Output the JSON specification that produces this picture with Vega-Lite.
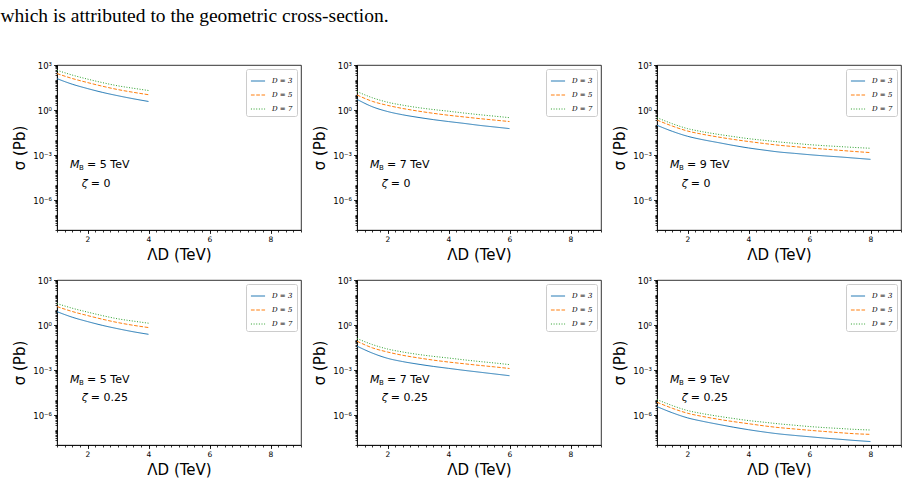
{
"$schema": "https://vega.github.io/schema/vega-lite/v6.json",
"background": "white",
"padding": {"left": 0, "top": 6, "right": 8, "bottom": 0},
"title": {"text": "which is attributed to the geometric cross-section.", "anchor": "start", "frame": "bounds", "font": "Liberation Serif", "fontSize": 19.5, "fontWeight": "normal", "color": "black", "offset": 34, "dx": -12},
"bounds": "flush",
"columns": 3,
"spacing": {"row": 50, "column": 56},
"datasets": {
"curves": [
{"panel":1,"D":"D = 3","lambda":1,"sigma":123.0},{"panel":1,"D":"D = 3","lambda":1.5,"sigma":52.48},{"panel":1,"D":"D = 3","lambda":2,"sigma":26.92},{"panel":1,"D":"D = 3","lambda":2.5,"sigma":14.79},{"panel":1,"D":"D = 3","lambda":3,"sigma":8.913},{"panel":1,"D":"D = 3","lambda":3.5,"sigma":5.623},{"panel":1,"D":"D = 3","lambda":4,"sigma":3.715},
{"panel":1,"D":"D = 5","lambda":1,"sigma":269.2},{"panel":1,"D":"D = 5","lambda":1.5,"sigma":125.9},{"panel":1,"D":"D = 5","lambda":2,"sigma":67.61},{"panel":1,"D":"D = 5","lambda":2.5,"sigma":38.02},{"panel":1,"D":"D = 5","lambda":3,"sigma":22.91},{"panel":1,"D":"D = 5","lambda":3.5,"sigma":15.14},{"panel":1,"D":"D = 5","lambda":4,"sigma":10.47},
{"panel":1,"D":"D = 7","lambda":1,"sigma":446.7},{"panel":1,"D":"D = 7","lambda":1.5,"sigma":213.8},{"panel":1,"D":"D = 7","lambda":2,"sigma":114.8},{"panel":1,"D":"D = 7","lambda":2.5,"sigma":66.07},{"panel":1,"D":"D = 7","lambda":3,"sigma":40.74},{"panel":1,"D":"D = 7","lambda":3.5,"sigma":28.18},{"panel":1,"D":"D = 7","lambda":4,"sigma":19.95},
{"panel":4,"D":"D = 3","lambda":1,"sigma":7.762},{"panel":4,"D":"D = 3","lambda":1.5,"sigma":3.311},{"panel":4,"D":"D = 3","lambda":2,"sigma":1.698},{"panel":4,"D":"D = 3","lambda":2.5,"sigma":0.9333},{"panel":4,"D":"D = 3","lambda":3,"sigma":0.5623},{"panel":4,"D":"D = 3","lambda":3.5,"sigma":0.3548},{"panel":4,"D":"D = 3","lambda":4,"sigma":0.2399},
{"panel":4,"D":"D = 5","lambda":1,"sigma":16.98},{"panel":4,"D":"D = 5","lambda":1.5,"sigma":7.943},{"panel":4,"D":"D = 5","lambda":2,"sigma":4.266},{"panel":4,"D":"D = 5","lambda":2.5,"sigma":2.399},{"panel":4,"D":"D = 5","lambda":3,"sigma":1.445},{"panel":4,"D":"D = 5","lambda":3.5,"sigma":0.955},{"panel":4,"D":"D = 5","lambda":4,"sigma":0.6761},
{"panel":4,"D":"D = 7","lambda":1,"sigma":26.92},{"panel":4,"D":"D = 7","lambda":1.5,"sigma":13.18},{"panel":4,"D":"D = 7","lambda":2,"sigma":7.244},{"panel":4,"D":"D = 7","lambda":2.5,"sigma":4.169},{"panel":4,"D":"D = 7","lambda":3,"sigma":2.57},{"panel":4,"D":"D = 7","lambda":3.5,"sigma":1.82},{"panel":4,"D":"D = 7","lambda":4,"sigma":1.318},
{"panel":2,"D":"D = 3","lambda":1,"sigma":5.129},{"panel":2,"D":"D = 3","lambda":1.5,"sigma":1.66},{"panel":2,"D":"D = 3","lambda":2,"sigma":0.7943},{"panel":2,"D":"D = 3","lambda":2.5,"sigma":0.4786},{"panel":2,"D":"D = 3","lambda":3,"sigma":0.3236},{"panel":2,"D":"D = 3","lambda":3.5,"sigma":0.2291},{"panel":2,"D":"D = 3","lambda":4,"sigma":0.1698},{"panel":2,"D":"D = 3","lambda":4.5,"sigma":0.1288},{"panel":2,"D":"D = 3","lambda":5,"sigma":0.0955},{"panel":2,"D":"D = 3","lambda":5.5,"sigma":0.07413},{"panel":2,"D":"D = 3","lambda":6,"sigma":0.05754},
{"panel":2,"D":"D = 5","lambda":1,"sigma":10.0},{"panel":2,"D":"D = 5","lambda":1.5,"sigma":3.802},{"panel":2,"D":"D = 5","lambda":2,"sigma":2.042},{"panel":2,"D":"D = 5","lambda":2.5,"sigma":1.259},{"panel":2,"D":"D = 5","lambda":3,"sigma":0.8511},{"panel":2,"D":"D = 5","lambda":3.5,"sigma":0.6026},{"panel":2,"D":"D = 5","lambda":4,"sigma":0.4467},{"panel":2,"D":"D = 5","lambda":4.5,"sigma":0.3467},{"panel":2,"D":"D = 5","lambda":5,"sigma":0.2692},{"panel":2,"D":"D = 5","lambda":5.5,"sigma":0.2138},{"panel":2,"D":"D = 5","lambda":6,"sigma":0.1698},
{"panel":2,"D":"D = 7","lambda":1,"sigma":16.98},{"panel":2,"D":"D = 7","lambda":1.5,"sigma":6.607},{"panel":2,"D":"D = 7","lambda":2,"sigma":3.311},{"panel":2,"D":"D = 7","lambda":2.5,"sigma":2.089},{"panel":2,"D":"D = 7","lambda":3,"sigma":1.445},{"panel":2,"D":"D = 7","lambda":3.5,"sigma":1.072},{"panel":2,"D":"D = 7","lambda":4,"sigma":0.8318},{"panel":2,"D":"D = 7","lambda":4.5,"sigma":0.631},{"panel":2,"D":"D = 7","lambda":5,"sigma":0.4898},{"panel":2,"D":"D = 7","lambda":5.5,"sigma":0.389},{"panel":2,"D":"D = 7","lambda":6,"sigma":0.309},
{"panel":5,"D":"D = 3","lambda":1,"sigma":0.0389},{"panel":5,"D":"D = 3","lambda":1.5,"sigma":0.01349},{"panel":5,"D":"D = 3","lambda":2,"sigma":0.006026},{"panel":5,"D":"D = 3","lambda":2.5,"sigma":0.003631},{"panel":5,"D":"D = 3","lambda":3,"sigma":0.002455},{"panel":5,"D":"D = 3","lambda":3.5,"sigma":0.001738},{"panel":5,"D":"D = 3","lambda":4,"sigma":0.001288},{"panel":5,"D":"D = 3","lambda":4.5,"sigma":0.000955},{"panel":5,"D":"D = 3","lambda":5,"sigma":0.0007244},{"panel":5,"D":"D = 3","lambda":5.5,"sigma":0.0005495},{"panel":5,"D":"D = 3","lambda":6,"sigma":0.0004169},
{"panel":5,"D":"D = 5","lambda":1,"sigma":0.08318},{"panel":5,"D":"D = 5","lambda":1.5,"sigma":0.0302},{"panel":5,"D":"D = 5","lambda":2,"sigma":0.01585},{"panel":5,"D":"D = 5","lambda":2.5,"sigma":0.00955},{"panel":5,"D":"D = 5","lambda":3,"sigma":0.006457},{"panel":5,"D":"D = 5","lambda":3.5,"sigma":0.004571},{"panel":5,"D":"D = 5","lambda":4,"sigma":0.003388},{"panel":5,"D":"D = 5","lambda":4.5,"sigma":0.00263},{"panel":5,"D":"D = 5","lambda":5,"sigma":0.002042},{"panel":5,"D":"D = 5","lambda":5.5,"sigma":0.001622},{"panel":5,"D":"D = 5","lambda":6,"sigma":0.001259},
{"panel":5,"D":"D = 7","lambda":1,"sigma":0.1259},{"panel":5,"D":"D = 7","lambda":1.5,"sigma":0.05012},{"panel":5,"D":"D = 7","lambda":2,"sigma":0.02512},{"panel":5,"D":"D = 7","lambda":2.5,"sigma":0.01585},{"panel":5,"D":"D = 7","lambda":3,"sigma":0.01096},{"panel":5,"D":"D = 7","lambda":3.5,"sigma":0.008128},{"panel":5,"D":"D = 7","lambda":4,"sigma":0.00631},{"panel":5,"D":"D = 7","lambda":4.5,"sigma":0.004786},{"panel":5,"D":"D = 7","lambda":5,"sigma":0.003715},{"panel":5,"D":"D = 7","lambda":5.5,"sigma":0.002951},{"panel":5,"D":"D = 7","lambda":6,"sigma":0.002291},
{"panel":3,"D":"D = 3","lambda":1,"sigma":0.0955},{"panel":3,"D":"D = 3","lambda":1.5,"sigma":0.03802},{"panel":3,"D":"D = 3","lambda":2,"sigma":0.01778},{"panel":3,"D":"D = 3","lambda":2.5,"sigma":0.01047},{"panel":3,"D":"D = 3","lambda":3,"sigma":0.006761},{"panel":3,"D":"D = 3","lambda":3.5,"sigma":0.004365},{"panel":3,"D":"D = 3","lambda":4,"sigma":0.002951},{"panel":3,"D":"D = 3","lambda":4.5,"sigma":0.002138},{"panel":3,"D":"D = 3","lambda":5,"sigma":0.001585},{"panel":3,"D":"D = 3","lambda":5.5,"sigma":0.001288},{"panel":3,"D":"D = 3","lambda":6,"sigma":0.001047},{"panel":3,"D":"D = 3","lambda":6.5,"sigma":0.000871},{"panel":3,"D":"D = 3","lambda":7,"sigma":0.0007413},{"panel":3,"D":"D = 3","lambda":7.5,"sigma":0.0006166},{"panel":3,"D":"D = 3","lambda":8,"sigma":0.0005129},
{"panel":3,"D":"D = 5","lambda":1,"sigma":0.2138},{"panel":3,"D":"D = 5","lambda":1.5,"sigma":0.08511},{"panel":3,"D":"D = 5","lambda":2,"sigma":0.03981},{"panel":3,"D":"D = 5","lambda":2.5,"sigma":0.02399},{"panel":3,"D":"D = 5","lambda":3,"sigma":0.01585},{"panel":3,"D":"D = 5","lambda":3.5,"sigma":0.01096},{"panel":3,"D":"D = 5","lambda":4,"sigma":0.007943},{"panel":3,"D":"D = 5","lambda":4.5,"sigma":0.005888},{"panel":3,"D":"D = 5","lambda":5,"sigma":0.004467},{"panel":3,"D":"D = 5","lambda":5.5,"sigma":0.003631},{"panel":3,"D":"D = 5","lambda":6,"sigma":0.002951},{"panel":3,"D":"D = 5","lambda":6.5,"sigma":0.002455},{"panel":3,"D":"D = 5","lambda":7,"sigma":0.002042},{"panel":3,"D":"D = 5","lambda":7.5,"sigma":0.001698},{"panel":3,"D":"D = 5","lambda":8,"sigma":0.001445},
{"panel":3,"D":"D = 7","lambda":1,"sigma":0.309},{"panel":3,"D":"D = 7","lambda":1.5,"sigma":0.123},{"panel":3,"D":"D = 7","lambda":2,"sigma":0.05754},{"panel":3,"D":"D = 7","lambda":2.5,"sigma":0.03548},{"panel":3,"D":"D = 7","lambda":3,"sigma":0.02399},{"panel":3,"D":"D = 7","lambda":3.5,"sigma":0.01698},{"panel":3,"D":"D = 7","lambda":4,"sigma":0.0123},{"panel":3,"D":"D = 7","lambda":4.5,"sigma":0.00955},{"panel":3,"D":"D = 7","lambda":5,"sigma":0.007413},{"panel":3,"D":"D = 7","lambda":5.5,"sigma":0.006026},{"panel":3,"D":"D = 7","lambda":6,"sigma":0.004898},{"panel":3,"D":"D = 7","lambda":6.5,"sigma":0.004169},{"panel":3,"D":"D = 7","lambda":7,"sigma":0.003631},{"panel":3,"D":"D = 7","lambda":7.5,"sigma":0.003162},{"panel":3,"D":"D = 7","lambda":8,"sigma":0.002818},
{"panel":6,"D":"D = 3","lambda":1,"sigma":3.631e-6},{"panel":6,"D":"D = 3","lambda":1.5,"sigma":1.413e-6},{"panel":6,"D":"D = 3","lambda":2,"sigma":6.457e-7},{"panel":6,"D":"D = 3","lambda":2.5,"sigma":3.802e-7},{"panel":6,"D":"D = 3","lambda":3,"sigma":2.399e-7},{"panel":6,"D":"D = 3","lambda":3.5,"sigma":1.549e-7},{"panel":6,"D":"D = 3","lambda":4,"sigma":1.047e-7},{"panel":6,"D":"D = 3","lambda":4.5,"sigma":7.413e-8},{"panel":6,"D":"D = 3","lambda":5,"sigma":5.495e-8},{"panel":6,"D":"D = 3","lambda":5.5,"sigma":4.365e-8},{"panel":6,"D":"D = 3","lambda":6,"sigma":3.548e-8},{"panel":6,"D":"D = 3","lambda":6.5,"sigma":2.884e-8},{"panel":6,"D":"D = 3","lambda":7,"sigma":2.399e-8},{"panel":6,"D":"D = 3","lambda":7.5,"sigma":1.995e-8},{"panel":6,"D":"D = 3","lambda":8,"sigma":1.698e-8},
{"panel":6,"D":"D = 5","lambda":1,"sigma":7.079e-6},{"panel":6,"D":"D = 5","lambda":1.5,"sigma":2.818e-6},{"panel":6,"D":"D = 5","lambda":2,"sigma":1.318e-6},{"panel":6,"D":"D = 5","lambda":2.5,"sigma":7.943e-7},{"panel":6,"D":"D = 5","lambda":3,"sigma":5.248e-7},{"panel":6,"D":"D = 5","lambda":3.5,"sigma":3.631e-7},{"panel":6,"D":"D = 5","lambda":4,"sigma":2.63e-7},{"panel":6,"D":"D = 5","lambda":4.5,"sigma":1.905e-7},{"panel":6,"D":"D = 5","lambda":5,"sigma":1.445e-7},{"panel":6,"D":"D = 5","lambda":5.5,"sigma":1.175e-7},{"panel":6,"D":"D = 5","lambda":6,"sigma":9.55e-8},{"panel":6,"D":"D = 5","lambda":6.5,"sigma":7.943e-8},{"panel":6,"D":"D = 5","lambda":7,"sigma":6.607e-8},{"panel":6,"D":"D = 5","lambda":7.5,"sigma":5.623e-8},{"panel":6,"D":"D = 5","lambda":8,"sigma":5.129e-8},
{"panel":6,"D":"D = 7","lambda":1,"sigma":1.072e-5},{"panel":6,"D":"D = 7","lambda":1.5,"sigma":4.266e-6},{"panel":6,"D":"D = 7","lambda":2,"sigma":1.995e-6},{"panel":6,"D":"D = 7","lambda":2.5,"sigma":1.23e-6},{"panel":6,"D":"D = 7","lambda":3,"sigma":8.318e-7},{"panel":6,"D":"D = 7","lambda":3.5,"sigma":5.888e-7},{"panel":6,"D":"D = 7","lambda":4,"sigma":4.266e-7},{"panel":6,"D":"D = 7","lambda":4.5,"sigma":3.311e-7},{"panel":6,"D":"D = 7","lambda":5,"sigma":2.57e-7},{"panel":6,"D":"D = 7","lambda":5.5,"sigma":2.089e-7},{"panel":6,"D":"D = 7","lambda":6,"sigma":1.698e-7},{"panel":6,"D":"D = 7","lambda":6.5,"sigma":1.445e-7},{"panel":6,"D":"D = 7","lambda":7,"sigma":1.259e-7},{"panel":6,"D":"D = 7","lambda":7.5,"sigma":1.096e-7},{"panel":6,"D":"D = 7","lambda":8,"sigma":1.0e-7}
],
"notes": [
{"panel":1,"kind":"mb","lambda":1.43,"sigma":2.0e-4,"label":"= 5 TeV"},{"panel":1,"kind":"zeta","lambda":1.81,"sigma":1.1e-5,"label":"= 0"},
{"panel":2,"kind":"mb","lambda":1.43,"sigma":2.0e-4,"label":"= 7 TeV"},{"panel":2,"kind":"zeta","lambda":1.81,"sigma":1.1e-5,"label":"= 0"},
{"panel":3,"kind":"mb","lambda":1.43,"sigma":2.0e-4,"label":"= 9 TeV"},{"panel":3,"kind":"zeta","lambda":1.81,"sigma":1.1e-5,"label":"= 0"},
{"panel":4,"kind":"mb","lambda":1.43,"sigma":2.1e-4,"label":"= 5 TeV"},{"panel":4,"kind":"zeta","lambda":1.81,"sigma":1.4e-5,"label":"= 0.25"},
{"panel":5,"kind":"mb","lambda":1.43,"sigma":2.1e-4,"label":"= 7 TeV"},{"panel":5,"kind":"zeta","lambda":1.81,"sigma":1.4e-5,"label":"= 0.25"},
{"panel":6,"kind":"mb","lambda":1.43,"sigma":2.1e-4,"label":"= 9 TeV"},{"panel":6,"kind":"zeta","lambda":1.81,"sigma":1.4e-5,"label":"= 0.25"}
]
},
"concat": [
{"width":244,"height":165,"resolve":{"axis":{"x":"independent","y":"independent"}},"layer":[
{"data":{"name":"curves"},"transform":[{"filter":"datum.panel == 1"}],"mark":{"type":"line","strokeWidth":1,"interpolate":"monotone"},"encoding":{"x":{"field":"lambda","type":"quantitative","scale":{"domain":[1,9],"nice":false},"axis":{"values":[2,4,6,8],"title":"ΛD (TeV)","titlePadding":4}},"y":{"field":"sigma","type":"quantitative","scale":{"type":"log","domain":[1e-8,1000],"nice":false},"axis":{"values":[1e-6,0.001,1,1000],"labelFontSize":8.5,"labelExpr":"datum.value >= 100 ? '10³' : datum.value >= 0.5 ? '10⁰' : datum.value >= 0.0005 ? '10⁻³' : '10⁻⁶'","title":"σ (Pb)","titlePadding":5}},"color":{"field":"D","type":"nominal","scale":{"domain":["D = 3","D = 5","D = 7"],"range":["#1f77b4","#ff7f0e","#2ca02c"]},"legend":{"title":null}},"strokeDash":{"field":"D","type":"nominal","scale":{"domain":["D = 3","D = 5","D = 7"],"range":[[1,0],[3.7,1.6],[1,1.65]]},"legend":{"title":null}}}},
{"data":{"name":"notes"},"transform":[{"filter":"datum.panel == 1 && datum.kind == 'mb'"}],"mark":{"type":"text","text":"M","fontStyle":"italic","fontSize":11,"align":"left","baseline":"middle"},"encoding":{"x":{"field":"lambda","type":"quantitative","axis":{"orient":"bottom","values":[1,1.25,1.5,1.75,2,2.25,2.5,2.75,3,3.25,3.5,3.75,4,4.25,4.5,4.75,5,5.25,5.5,5.75,6,6.25,6.5,6.75,7,7.25,7.5,7.75,8,8.25,8.5,8.75,9],"labels":false,"domain":false,"tickSize":2,"title":null}},"y":{"field":"sigma","type":"quantitative","axis":{"orient":"left","tickCount":100,"labels":false,"domain":false,"tickSize":2,"title":null}}}},
{"data":{"name":"notes"},"transform":[{"filter":"datum.panel == 1 && datum.kind == 'mb'"}],"mark":{"type":"text","text":"B","fontSize":7,"align":"left","baseline":"middle","dx":9,"dy":3},"encoding":{"x":{"field":"lambda","type":"quantitative","axis":null},"y":{"field":"sigma","type":"quantitative","axis":null}}},
{"data":{"name":"notes"},"transform":[{"filter":"datum.panel == 1 && datum.kind == 'mb'"}],"mark":{"type":"text","fontSize":11,"align":"left","baseline":"middle","dx":17},"encoding":{"x":{"field":"lambda","type":"quantitative","axis":null},"y":{"field":"sigma","type":"quantitative","axis":null},"text":{"field":"label"}}},
{"data":{"name":"notes"},"transform":[{"filter":"datum.panel == 1 && datum.kind == 'zeta'"}],"mark":{"type":"text","text":"ζ","fontStyle":"italic","fontSize":11,"align":"left","baseline":"middle"},"encoding":{"x":{"field":"lambda","type":"quantitative","axis":null},"y":{"field":"sigma","type":"quantitative","axis":null}}},
{"data":{"name":"notes"},"transform":[{"filter":"datum.panel == 1 && datum.kind == 'zeta'"}],"mark":{"type":"text","fontSize":11,"align":"left","baseline":"middle","dx":9},"encoding":{"x":{"field":"lambda","type":"quantitative","axis":null},"y":{"field":"sigma","type":"quantitative","axis":null},"text":{"field":"label"}}}
]},
{"width":244,"height":165,"resolve":{"axis":{"x":"independent","y":"independent"}},"layer":[
{"data":{"name":"curves"},"transform":[{"filter":"datum.panel == 2"}],"mark":{"type":"line","strokeWidth":1,"interpolate":"monotone"},"encoding":{"x":{"field":"lambda","type":"quantitative","scale":{"domain":[1,9],"nice":false},"axis":{"values":[2,4,6,8],"title":"ΛD (TeV)","titlePadding":4}},"y":{"field":"sigma","type":"quantitative","scale":{"type":"log","domain":[1e-8,1000],"nice":false},"axis":{"values":[1e-6,0.001,1,1000],"labelFontSize":8.5,"labelExpr":"datum.value >= 100 ? '10³' : datum.value >= 0.5 ? '10⁰' : datum.value >= 0.0005 ? '10⁻³' : '10⁻⁶'","title":"σ (Pb)","titlePadding":5}},"color":{"field":"D","type":"nominal","scale":{"domain":["D = 3","D = 5","D = 7"],"range":["#1f77b4","#ff7f0e","#2ca02c"]},"legend":{"title":null}},"strokeDash":{"field":"D","type":"nominal","scale":{"domain":["D = 3","D = 5","D = 7"],"range":[[1,0],[3.7,1.6],[1,1.65]]},"legend":{"title":null}}}},
{"data":{"name":"notes"},"transform":[{"filter":"datum.panel == 2 && datum.kind == 'mb'"}],"mark":{"type":"text","text":"M","fontStyle":"italic","fontSize":11,"align":"left","baseline":"middle"},"encoding":{"x":{"field":"lambda","type":"quantitative","axis":{"orient":"bottom","values":[1,1.25,1.5,1.75,2,2.25,2.5,2.75,3,3.25,3.5,3.75,4,4.25,4.5,4.75,5,5.25,5.5,5.75,6,6.25,6.5,6.75,7,7.25,7.5,7.75,8,8.25,8.5,8.75,9],"labels":false,"domain":false,"tickSize":2,"title":null}},"y":{"field":"sigma","type":"quantitative","axis":{"orient":"left","tickCount":100,"labels":false,"domain":false,"tickSize":2,"title":null}}}},
{"data":{"name":"notes"},"transform":[{"filter":"datum.panel == 2 && datum.kind == 'mb'"}],"mark":{"type":"text","text":"B","fontSize":7,"align":"left","baseline":"middle","dx":9,"dy":3},"encoding":{"x":{"field":"lambda","type":"quantitative","axis":null},"y":{"field":"sigma","type":"quantitative","axis":null}}},
{"data":{"name":"notes"},"transform":[{"filter":"datum.panel == 2 && datum.kind == 'mb'"}],"mark":{"type":"text","fontSize":11,"align":"left","baseline":"middle","dx":17},"encoding":{"x":{"field":"lambda","type":"quantitative","axis":null},"y":{"field":"sigma","type":"quantitative","axis":null},"text":{"field":"label"}}},
{"data":{"name":"notes"},"transform":[{"filter":"datum.panel == 2 && datum.kind == 'zeta'"}],"mark":{"type":"text","text":"ζ","fontStyle":"italic","fontSize":11,"align":"left","baseline":"middle"},"encoding":{"x":{"field":"lambda","type":"quantitative","axis":null},"y":{"field":"sigma","type":"quantitative","axis":null}}},
{"data":{"name":"notes"},"transform":[{"filter":"datum.panel == 2 && datum.kind == 'zeta'"}],"mark":{"type":"text","fontSize":11,"align":"left","baseline":"middle","dx":9},"encoding":{"x":{"field":"lambda","type":"quantitative","axis":null},"y":{"field":"sigma","type":"quantitative","axis":null},"text":{"field":"label"}}}
]},
{"width":244,"height":165,"resolve":{"axis":{"x":"independent","y":"independent"}},"layer":[
{"data":{"name":"curves"},"transform":[{"filter":"datum.panel == 3"}],"mark":{"type":"line","strokeWidth":1,"interpolate":"monotone"},"encoding":{"x":{"field":"lambda","type":"quantitative","scale":{"domain":[1,9],"nice":false},"axis":{"values":[2,4,6,8],"title":"ΛD (TeV)","titlePadding":4}},"y":{"field":"sigma","type":"quantitative","scale":{"type":"log","domain":[1e-8,1000],"nice":false},"axis":{"values":[1e-6,0.001,1,1000],"labelFontSize":8.5,"labelExpr":"datum.value >= 100 ? '10³' : datum.value >= 0.5 ? '10⁰' : datum.value >= 0.0005 ? '10⁻³' : '10⁻⁶'","title":"σ (Pb)","titlePadding":5}},"color":{"field":"D","type":"nominal","scale":{"domain":["D = 3","D = 5","D = 7"],"range":["#1f77b4","#ff7f0e","#2ca02c"]},"legend":{"title":null}},"strokeDash":{"field":"D","type":"nominal","scale":{"domain":["D = 3","D = 5","D = 7"],"range":[[1,0],[3.7,1.6],[1,1.65]]},"legend":{"title":null}}}},
{"data":{"name":"notes"},"transform":[{"filter":"datum.panel == 3 && datum.kind == 'mb'"}],"mark":{"type":"text","text":"M","fontStyle":"italic","fontSize":11,"align":"left","baseline":"middle"},"encoding":{"x":{"field":"lambda","type":"quantitative","axis":{"orient":"bottom","values":[1,1.25,1.5,1.75,2,2.25,2.5,2.75,3,3.25,3.5,3.75,4,4.25,4.5,4.75,5,5.25,5.5,5.75,6,6.25,6.5,6.75,7,7.25,7.5,7.75,8,8.25,8.5,8.75,9],"labels":false,"domain":false,"tickSize":2,"title":null}},"y":{"field":"sigma","type":"quantitative","axis":{"orient":"left","tickCount":100,"labels":false,"domain":false,"tickSize":2,"title":null}}}},
{"data":{"name":"notes"},"transform":[{"filter":"datum.panel == 3 && datum.kind == 'mb'"}],"mark":{"type":"text","text":"B","fontSize":7,"align":"left","baseline":"middle","dx":9,"dy":3},"encoding":{"x":{"field":"lambda","type":"quantitative","axis":null},"y":{"field":"sigma","type":"quantitative","axis":null}}},
{"data":{"name":"notes"},"transform":[{"filter":"datum.panel == 3 && datum.kind == 'mb'"}],"mark":{"type":"text","fontSize":11,"align":"left","baseline":"middle","dx":17},"encoding":{"x":{"field":"lambda","type":"quantitative","axis":null},"y":{"field":"sigma","type":"quantitative","axis":null},"text":{"field":"label"}}},
{"data":{"name":"notes"},"transform":[{"filter":"datum.panel == 3 && datum.kind == 'zeta'"}],"mark":{"type":"text","text":"ζ","fontStyle":"italic","fontSize":11,"align":"left","baseline":"middle"},"encoding":{"x":{"field":"lambda","type":"quantitative","axis":null},"y":{"field":"sigma","type":"quantitative","axis":null}}},
{"data":{"name":"notes"},"transform":[{"filter":"datum.panel == 3 && datum.kind == 'zeta'"}],"mark":{"type":"text","fontSize":11,"align":"left","baseline":"middle","dx":9},"encoding":{"x":{"field":"lambda","type":"quantitative","axis":null},"y":{"field":"sigma","type":"quantitative","axis":null},"text":{"field":"label"}}}
]},
{"width":244,"height":165,"resolve":{"axis":{"x":"independent","y":"independent"}},"layer":[
{"data":{"name":"curves"},"transform":[{"filter":"datum.panel == 4"}],"mark":{"type":"line","strokeWidth":1,"interpolate":"monotone"},"encoding":{"x":{"field":"lambda","type":"quantitative","scale":{"domain":[1,9],"nice":false},"axis":{"values":[2,4,6,8],"title":"ΛD (TeV)","titlePadding":4}},"y":{"field":"sigma","type":"quantitative","scale":{"type":"log","domain":[1e-8,1000],"nice":false},"axis":{"values":[1e-6,0.001,1,1000],"labelFontSize":8.5,"labelExpr":"datum.value >= 100 ? '10³' : datum.value >= 0.5 ? '10⁰' : datum.value >= 0.0005 ? '10⁻³' : '10⁻⁶'","title":"σ (Pb)","titlePadding":5}},"color":{"field":"D","type":"nominal","scale":{"domain":["D = 3","D = 5","D = 7"],"range":["#1f77b4","#ff7f0e","#2ca02c"]},"legend":{"title":null}},"strokeDash":{"field":"D","type":"nominal","scale":{"domain":["D = 3","D = 5","D = 7"],"range":[[1,0],[3.7,1.6],[1,1.65]]},"legend":{"title":null}}}},
{"data":{"name":"notes"},"transform":[{"filter":"datum.panel == 4 && datum.kind == 'mb'"}],"mark":{"type":"text","text":"M","fontStyle":"italic","fontSize":11,"align":"left","baseline":"middle"},"encoding":{"x":{"field":"lambda","type":"quantitative","axis":{"orient":"bottom","values":[1,1.25,1.5,1.75,2,2.25,2.5,2.75,3,3.25,3.5,3.75,4,4.25,4.5,4.75,5,5.25,5.5,5.75,6,6.25,6.5,6.75,7,7.25,7.5,7.75,8,8.25,8.5,8.75,9],"labels":false,"domain":false,"tickSize":2,"title":null}},"y":{"field":"sigma","type":"quantitative","axis":{"orient":"left","tickCount":100,"labels":false,"domain":false,"tickSize":2,"title":null}}}},
{"data":{"name":"notes"},"transform":[{"filter":"datum.panel == 4 && datum.kind == 'mb'"}],"mark":{"type":"text","text":"B","fontSize":7,"align":"left","baseline":"middle","dx":9,"dy":3},"encoding":{"x":{"field":"lambda","type":"quantitative","axis":null},"y":{"field":"sigma","type":"quantitative","axis":null}}},
{"data":{"name":"notes"},"transform":[{"filter":"datum.panel == 4 && datum.kind == 'mb'"}],"mark":{"type":"text","fontSize":11,"align":"left","baseline":"middle","dx":17},"encoding":{"x":{"field":"lambda","type":"quantitative","axis":null},"y":{"field":"sigma","type":"quantitative","axis":null},"text":{"field":"label"}}},
{"data":{"name":"notes"},"transform":[{"filter":"datum.panel == 4 && datum.kind == 'zeta'"}],"mark":{"type":"text","text":"ζ","fontStyle":"italic","fontSize":11,"align":"left","baseline":"middle"},"encoding":{"x":{"field":"lambda","type":"quantitative","axis":null},"y":{"field":"sigma","type":"quantitative","axis":null}}},
{"data":{"name":"notes"},"transform":[{"filter":"datum.panel == 4 && datum.kind == 'zeta'"}],"mark":{"type":"text","fontSize":11,"align":"left","baseline":"middle","dx":9},"encoding":{"x":{"field":"lambda","type":"quantitative","axis":null},"y":{"field":"sigma","type":"quantitative","axis":null},"text":{"field":"label"}}}
]},
{"width":244,"height":165,"resolve":{"axis":{"x":"independent","y":"independent"}},"layer":[
{"data":{"name":"curves"},"transform":[{"filter":"datum.panel == 5"}],"mark":{"type":"line","strokeWidth":1,"interpolate":"monotone"},"encoding":{"x":{"field":"lambda","type":"quantitative","scale":{"domain":[1,9],"nice":false},"axis":{"values":[2,4,6,8],"title":"ΛD (TeV)","titlePadding":4}},"y":{"field":"sigma","type":"quantitative","scale":{"type":"log","domain":[1e-8,1000],"nice":false},"axis":{"values":[1e-6,0.001,1,1000],"labelFontSize":8.5,"labelExpr":"datum.value >= 100 ? '10³' : datum.value >= 0.5 ? '10⁰' : datum.value >= 0.0005 ? '10⁻³' : '10⁻⁶'","title":"σ (Pb)","titlePadding":5}},"color":{"field":"D","type":"nominal","scale":{"domain":["D = 3","D = 5","D = 7"],"range":["#1f77b4","#ff7f0e","#2ca02c"]},"legend":{"title":null}},"strokeDash":{"field":"D","type":"nominal","scale":{"domain":["D = 3","D = 5","D = 7"],"range":[[1,0],[3.7,1.6],[1,1.65]]},"legend":{"title":null}}}},
{"data":{"name":"notes"},"transform":[{"filter":"datum.panel == 5 && datum.kind == 'mb'"}],"mark":{"type":"text","text":"M","fontStyle":"italic","fontSize":11,"align":"left","baseline":"middle"},"encoding":{"x":{"field":"lambda","type":"quantitative","axis":{"orient":"bottom","values":[1,1.25,1.5,1.75,2,2.25,2.5,2.75,3,3.25,3.5,3.75,4,4.25,4.5,4.75,5,5.25,5.5,5.75,6,6.25,6.5,6.75,7,7.25,7.5,7.75,8,8.25,8.5,8.75,9],"labels":false,"domain":false,"tickSize":2,"title":null}},"y":{"field":"sigma","type":"quantitative","axis":{"orient":"left","tickCount":100,"labels":false,"domain":false,"tickSize":2,"title":null}}}},
{"data":{"name":"notes"},"transform":[{"filter":"datum.panel == 5 && datum.kind == 'mb'"}],"mark":{"type":"text","text":"B","fontSize":7,"align":"left","baseline":"middle","dx":9,"dy":3},"encoding":{"x":{"field":"lambda","type":"quantitative","axis":null},"y":{"field":"sigma","type":"quantitative","axis":null}}},
{"data":{"name":"notes"},"transform":[{"filter":"datum.panel == 5 && datum.kind == 'mb'"}],"mark":{"type":"text","fontSize":11,"align":"left","baseline":"middle","dx":17},"encoding":{"x":{"field":"lambda","type":"quantitative","axis":null},"y":{"field":"sigma","type":"quantitative","axis":null},"text":{"field":"label"}}},
{"data":{"name":"notes"},"transform":[{"filter":"datum.panel == 5 && datum.kind == 'zeta'"}],"mark":{"type":"text","text":"ζ","fontStyle":"italic","fontSize":11,"align":"left","baseline":"middle"},"encoding":{"x":{"field":"lambda","type":"quantitative","axis":null},"y":{"field":"sigma","type":"quantitative","axis":null}}},
{"data":{"name":"notes"},"transform":[{"filter":"datum.panel == 5 && datum.kind == 'zeta'"}],"mark":{"type":"text","fontSize":11,"align":"left","baseline":"middle","dx":9},"encoding":{"x":{"field":"lambda","type":"quantitative","axis":null},"y":{"field":"sigma","type":"quantitative","axis":null},"text":{"field":"label"}}}
]},
{"width":244,"height":165,"resolve":{"axis":{"x":"independent","y":"independent"}},"layer":[
{"data":{"name":"curves"},"transform":[{"filter":"datum.panel == 6"}],"mark":{"type":"line","strokeWidth":1,"interpolate":"monotone"},"encoding":{"x":{"field":"lambda","type":"quantitative","scale":{"domain":[1,9],"nice":false},"axis":{"values":[2,4,6,8],"title":"ΛD (TeV)","titlePadding":4}},"y":{"field":"sigma","type":"quantitative","scale":{"type":"log","domain":[1e-8,1000],"nice":false},"axis":{"values":[1e-6,0.001,1,1000],"labelFontSize":8.5,"labelExpr":"datum.value >= 100 ? '10³' : datum.value >= 0.5 ? '10⁰' : datum.value >= 0.0005 ? '10⁻³' : '10⁻⁶'","title":"σ (Pb)","titlePadding":5}},"color":{"field":"D","type":"nominal","scale":{"domain":["D = 3","D = 5","D = 7"],"range":["#1f77b4","#ff7f0e","#2ca02c"]},"legend":{"title":null}},"strokeDash":{"field":"D","type":"nominal","scale":{"domain":["D = 3","D = 5","D = 7"],"range":[[1,0],[3.7,1.6],[1,1.65]]},"legend":{"title":null}}}},
{"data":{"name":"notes"},"transform":[{"filter":"datum.panel == 6 && datum.kind == 'mb'"}],"mark":{"type":"text","text":"M","fontStyle":"italic","fontSize":11,"align":"left","baseline":"middle"},"encoding":{"x":{"field":"lambda","type":"quantitative","axis":{"orient":"bottom","values":[1,1.25,1.5,1.75,2,2.25,2.5,2.75,3,3.25,3.5,3.75,4,4.25,4.5,4.75,5,5.25,5.5,5.75,6,6.25,6.5,6.75,7,7.25,7.5,7.75,8,8.25,8.5,8.75,9],"labels":false,"domain":false,"tickSize":2,"title":null}},"y":{"field":"sigma","type":"quantitative","axis":{"orient":"left","tickCount":100,"labels":false,"domain":false,"tickSize":2,"title":null}}}},
{"data":{"name":"notes"},"transform":[{"filter":"datum.panel == 6 && datum.kind == 'mb'"}],"mark":{"type":"text","text":"B","fontSize":7,"align":"left","baseline":"middle","dx":9,"dy":3},"encoding":{"x":{"field":"lambda","type":"quantitative","axis":null},"y":{"field":"sigma","type":"quantitative","axis":null}}},
{"data":{"name":"notes"},"transform":[{"filter":"datum.panel == 6 && datum.kind == 'mb'"}],"mark":{"type":"text","fontSize":11,"align":"left","baseline":"middle","dx":17},"encoding":{"x":{"field":"lambda","type":"quantitative","axis":null},"y":{"field":"sigma","type":"quantitative","axis":null},"text":{"field":"label"}}},
{"data":{"name":"notes"},"transform":[{"filter":"datum.panel == 6 && datum.kind == 'zeta'"}],"mark":{"type":"text","text":"ζ","fontStyle":"italic","fontSize":11,"align":"left","baseline":"middle"},"encoding":{"x":{"field":"lambda","type":"quantitative","axis":null},"y":{"field":"sigma","type":"quantitative","axis":null}}},
{"data":{"name":"notes"},"transform":[{"filter":"datum.panel == 6 && datum.kind == 'zeta'"}],"mark":{"type":"text","fontSize":11,"align":"left","baseline":"middle","dx":9},"encoding":{"x":{"field":"lambda","type":"quantitative","axis":null},"y":{"field":"sigma","type":"quantitative","axis":null},"text":{"field":"label"}}}
]}
],
"resolve": {"legend": {"color": "independent", "strokeDash": "independent"}},
"config": {
"view": {"stroke": "black", "strokeWidth": 0.8},
"axis": {"grid": false, "domainColor": "black", "domainWidth": 0.8, "tickColor": "black", "tickWidth": 0.8, "tickSize": 3.5, "labelColor": "black", "titleColor": "black", "labelFont": "DejaVu Sans", "titleFont": "DejaVu Sans", "labelFontSize": 7.5, "labelPadding": 2, "titleFontSize": 15, "titleFontWeight": "normal"},
"legend": {"orient": "top-right", "offset": 4, "padding": 4, "fillColor": "white", "strokeColor": "#cccccc", "cornerRadius": 2, "labelFont": "DejaVu Serif", "labelFontStyle": "italic", "labelFontSize": 7, "labelColor": "black", "symbolType": "stroke", "symbolSize": 200, "symbolStrokeWidth": 1, "rowPadding": 3, "labelOffset": 6},
"text": {"font": "DejaVu Sans", "color": "black"}
}
}
